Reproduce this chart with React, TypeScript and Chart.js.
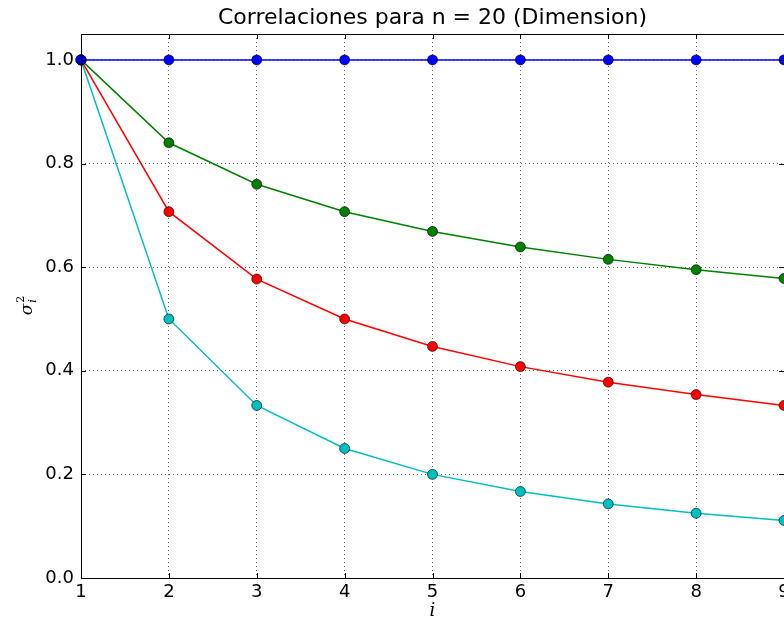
import React, { useEffect, useRef } from "react";
import { Chart, registerables } from "chart.js";

Chart.register(...registerables);

const xValues = [1, 2, 3, 4, 5, 6, 7, 8, 9];
const blueSeries = [1.0, 1.0, 1.0, 1.0, 1.0, 1.0, 1.0, 1.0, 1.0];
const greenSeries = [1.0, 0.84, 0.76, 0.707, 0.669, 0.639, 0.615, 0.595, 0.578];
const redSeries = [1.0, 0.707, 0.577, 0.5, 0.447, 0.408, 0.378, 0.354, 0.333];
const cyanSeries = [1.0, 0.5, 0.333, 0.25, 0.2, 0.167, 0.143, 0.125, 0.111];
const xTicks = [1, 2, 3, 4, 5, 6, 7, 8, 9];
const yTicks = [0.0, 0.2, 0.4, 0.6, 0.8, 1.0];
const titleText = "Correlaciones para n = 20 (Dimension)";

const FONT = "'DejaVu Sans', sans-serif";

const decorPlugin = {
  id: "decor",
  afterDraw(chart: any) {
    const { ctx, chartArea } = chart;
    const { left, right, top, bottom } = chartArea;
    const xs = chart.scales.x;
    const ys = chart.scales.y;
    ctx.save();
    // frame
    ctx.strokeStyle = "#000";
    ctx.lineWidth = 1;
    ctx.strokeRect(left + 0.5, top + 0.5, right - left, bottom - top);
    // inward ticks
    ctx.beginPath();
    for (const v of xTicks) {
      const px = Math.round(xs.getPixelForValue(v)) + 0.5;
      ctx.moveTo(px, top);
      ctx.lineTo(px, top + 5);
      ctx.moveTo(px, bottom);
      ctx.lineTo(px, bottom - 5);
    }
    for (const v of yTicks) {
      const py = Math.round(ys.getPixelForValue(v)) + 0.5;
      ctx.moveTo(left, py);
      ctx.lineTo(left + 5, py);
      ctx.moveTo(right, py);
      ctx.lineTo(right - 5, py);
    }
    ctx.stroke();
    // title
    ctx.fillStyle = "#000";
    ctx.font = "22px " + FONT;
    ctx.textAlign = "center";
    ctx.textBaseline = "middle";
    ctx.fillText(titleText, (left + right) / 2, 18);
    // x label
    ctx.font = "italic 18px 'DejaVu Serif', serif";
    ctx.fillText("i", (left + right) / 2, 611);
    // y label
    ctx.translate(27, (top + bottom) / 2);
    ctx.rotate(-Math.PI / 2);
    ctx.font = "italic 17px 'DejaVu Serif', serif";
    ctx.textAlign = "left";
    ctx.textBaseline = "alphabetic";
    const sw = ctx.measureText("σ").width;
    const startX = -(sw + 7) / 2;
    ctx.fillText("σ", startX, 5);
    ctx.font = "11px 'DejaVu Serif', serif";
    ctx.fillText("2", startX + sw + 1, -3);
    ctx.font = "italic 11px 'DejaVu Serif', serif";
    ctx.fillText("i", startX + sw + 1, 9);
    ctx.restore();
  },
};

function makeDataset(label: string, data: number[], color: string) {
  return {
    label,
    data: data.map((y, i) => ({ x: xValues[i], y })),
    borderColor: color,
    backgroundColor: color,
    pointBackgroundColor: color,
    pointBorderColor: "#000",
    pointBorderWidth: 0.6,
    pointRadius: 5,
    borderWidth: 1.5,
    tension: 0,
    clip: false as any,
  };
}

export default function App() {
  const ref = useRef<HTMLCanvasElement>(null);
  useEffect(() => {
    if (!ref.current) return;
    const chart = new Chart(ref.current, {
      type: "line",
      data: {
        datasets: [
          makeDataset("blue", blueSeries, "#0000ff"),
          makeDataset("green", greenSeries, "#008000"),
          makeDataset("red", redSeries, "#ff0000"),
          makeDataset("cyan", cyanSeries, "#00bfbf"),
        ],
      },
      options: {
        responsive: false,
        animation: false,
        devicePixelRatio: 1,
        layout: { padding: { left: 0, top: 34, right: 16, bottom: 0 } },
        plugins: {
          legend: { display: false },
          title: { display: false },
          tooltip: { enabled: false },
        },
        scales: {
          x: {
            type: "linear",
            min: 1,
            max: 9,
            afterFit: (s: any) => {
              s.height = 44;
            },
            afterBuildTicks: (s: any) => {
              s.ticks = xTicks.map((v) => ({ value: v }));
            },
            ticks: {
              font: { family: FONT, size: 18 },
              color: "#000",
              padding: 4,
              maxRotation: 0,
              callback: (v: any) => String(v),
            },
            grid: {
              color: "rgba(0,0,0,0.6)",
              lineWidth: 1,
              drawTicks: false,
            },
            border: { display: false, dash: [1, 3] },
          },
          y: {
            type: "linear",
            min: 0,
            max: 1.05,
            afterFit: (s: any) => {
              s.width = 81;
            },
            afterBuildTicks: (s: any) => {
              s.ticks = yTicks.map((v) => ({ value: v }));
            },
            ticks: {
              font: { family: FONT, size: 18 },
              color: "#000",
              padding: 7,
              callback: (v: any) => Number(v).toFixed(1),
            },
            grid: {
              color: "rgba(0,0,0,0.6)",
              lineWidth: 1,
              drawTicks: false,
            },
            border: { display: false, dash: [1, 3] },
          },
        },
      } as any,
      plugins: [decorPlugin],
    });
    return () => chart.destroy();
  }, []);
  return (
    <div
      style={{
        position: "absolute",
        left: 0,
        top: 0,
        width: 784,
        height: 622,
        overflow: "hidden",
        background: "#fff",
      }}
    >
      <canvas ref={ref} width={800} height={622} style={{ width: 800, height: 622 }} />
    </div>
  );
}
